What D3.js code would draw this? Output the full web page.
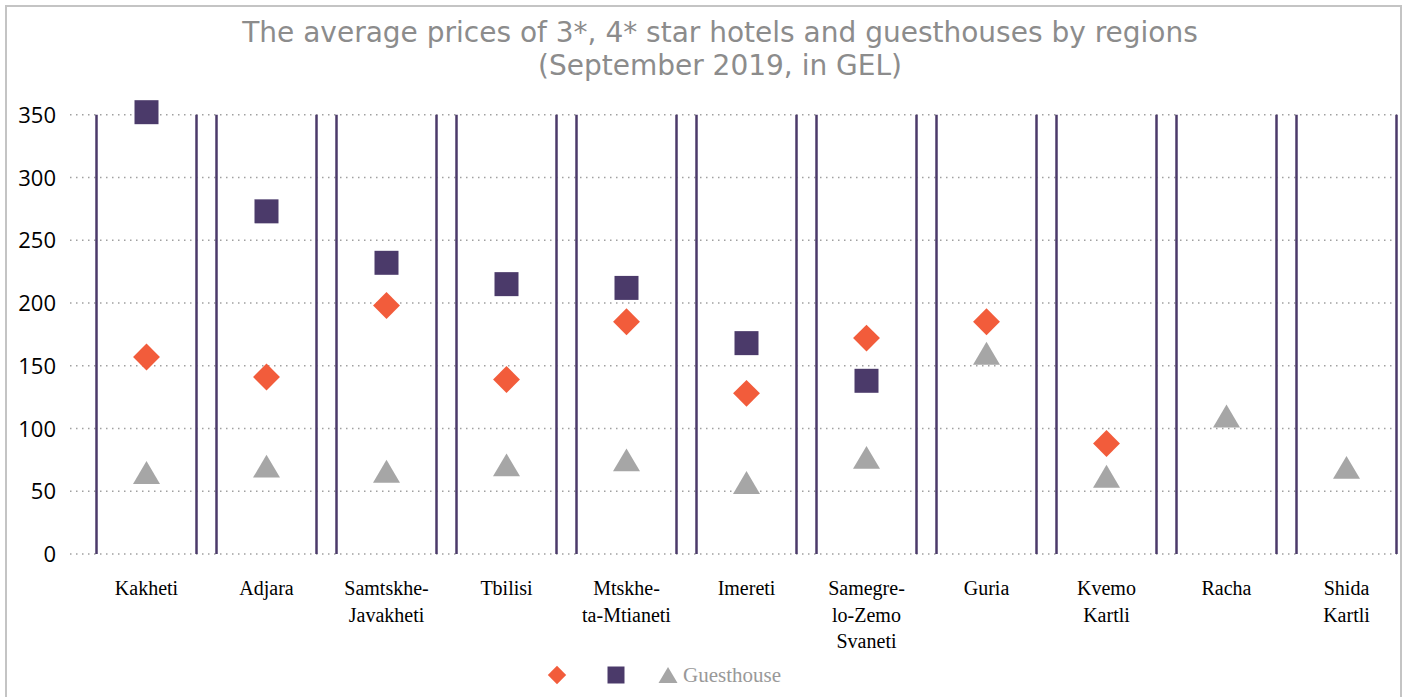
<!DOCTYPE html>
<html>
<head>
<meta charset="utf-8">
<script src="https://cdn.jsdelivr.net/npm/d3@7"></script>
<style>
  html, body { margin: 0; padding: 0; background: #fff; }
  svg { display: block; }
</style>
</head>
<body>
<svg id="chart" width="1403" height="697"></svg>
<script>
// ---- data ----
const categories = ["Kakheti", "Adjara", "Samtskhe-Javakheti", "Tbilisi", "Mtskheta-Mtianeti", "Imereti",
  "Samegrelo-Zemo Svaneti", "Guria", "Kvemo Kartli", "Racha", "Shida Kartli"];
const categoryLabels = [["Kakheti"], ["Adjara"], ["Samtskhe-", "Javakheti"], ["Tbilisi"], ["Mtskhe-", "ta-Mtianeti"],
  ["Imereti"], ["Samegre-", "lo-Zemo", "Svaneti"], ["Guria"], ["Kvemo", "Kartli"], ["Racha"], ["Shida", "Kartli"]];
const hotel3 = [157, 141, 198, 139, 185, 128, 172, 185, 88, null, null];      // diamond
const hotel4 = [352, 273, 232, 215, 212, 168, 138, null, null, null, null];    // square
const guesthouse = [65, 70, 66, 71, 75, 57, 77, 160, 62, 110, 69];            // triangle
const yTicks = [0, 50, 100, 150, 200, 250, 300, 350];
const seriesNames = ["", "", "Guesthouse"];
const titleLines = ["The average prices of 3*, 4* star hotels and guesthouses by regions", "(September 2019, in GEL)"];

// ---- layout ----
const svg = d3.select("#chart");
const gridLeft = 70, gridRight = 1397;
const purple = "#4b3a6a", orange = "#f25c3b", gray = "#a6a6a6";

svg.append("rect").attr("x", 6).attr("y", 6).attr("width", 1395).attr("height", 700)
  .attr("fill", "#fff").attr("stroke", "#c4c4c4").attr("stroke-width", 2);

const x = d3.scaleBand().domain(categories).range([86.5, 1406.5]).paddingInner(1 / 6).paddingOuter(1 / 12);
const y = d3.scaleLinear().domain([0, 350]).range([554, 114.7]);

// title
const title = svg.append("text").attr("x", 720).attr("y", 42).attr("text-anchor", "middle")
  .attr("font-family", "'DejaVu Sans', sans-serif").attr("font-size", 28).attr("fill", "#8c8c8c");
titleLines.forEach((t, i) => title.append("tspan").attr("x", 720).attr("dy", i === 0 ? 0 : 33).text(t));

// y axis (labels + dotted gridlines)
const yAxis = d3.axisLeft(y).tickValues(yTicks).tickSize(0).tickPadding(0);
const ya = svg.append("g").attr("transform", "translate(56,0)").call(yAxis);
ya.select(".domain").remove();
ya.selectAll("text").attr("font-family", "'Open Sans', sans-serif").attr("font-size", 22).attr("fill", "#000")
  .attr("dy", "0.35em");

svg.append("g").selectAll("line").data(yTicks).join("line")
  .attr("x1", gridLeft).attr("x2", gridRight)
  .attr("y1", d => y(d)).attr("y2", d => y(d))
  .attr("stroke", "#a0a0a0").attr("stroke-width", 1.5).attr("stroke-dasharray", "1.5,4.5");

// vertical band edge lines
const edges = [];
categories.forEach(c => { edges.push(x(c)); edges.push(x(c) + x.bandwidth()); });
svg.append("g").selectAll("line").data(edges).join("line")
  .attr("x1", d => d).attr("x2", d => d)
  .attr("y1", y(350)).attr("y2", y(0))
  .attr("stroke", purple).attr("stroke-width", 2.5);

// x labels
const xl = svg.append("g");
categories.forEach((c, i) => {
  const t = xl.append("text").attr("x", x(c) + x.bandwidth() / 2).attr("y", 595).attr("text-anchor", "middle")
    .attr("font-family", "'Liberation Serif', serif").attr("font-size", 20).attr("fill", "#000");
  categoryLabels[i].forEach((s, j) => t.append("tspan").attr("x", x(c) + x.bandwidth() / 2).attr("dy", j === 0 ? 0 : 26.5).text(s));
});

// markers
const cx = c => x(c) + x.bandwidth() / 2;
const diamond = d3.symbol().type(d3.symbolSquare).size(19 * 19);
const square = d3.symbol().type(d3.symbolSquare).size(24 * 24);
const triangle = s => { const w = s, h = s * 0.85; return `M0,${-h / 2}L${w / 2},${h / 2}L${-w / 2},${h / 2}Z`; };

const g = svg.append("g");
g.selectAll(".tri").data(categories.map((c, i) => [c, guesthouse[i]]).filter(d => d[1] != null)).join("path")
  .attr("transform", d => `translate(${cx(d[0])},${y(d[1])})`).attr("d", triangle(27)).attr("fill", gray);
g.selectAll(".sq").data(categories.map((c, i) => [c, hotel4[i]]).filter(d => d[1] != null)).join("path")
  .attr("transform", d => `translate(${cx(d[0])},${y(d[1])})`).attr("d", square()).attr("fill", purple);
g.selectAll(".dm").data(categories.map((c, i) => [c, hotel3[i]]).filter(d => d[1] != null)).join("path")
  .attr("transform", d => `translate(${cx(d[0])},${y(d[1])}) rotate(45)`).attr("d", diamond()).attr("fill", orange);

// legend
const lg = svg.append("g").attr("transform", "translate(0,675)");
lg.append("path").attr("transform", "translate(557,0) rotate(45)").attr("d", d3.symbol().type(d3.symbolSquare).size(13 * 13)()).attr("fill", orange);
lg.append("path").attr("transform", "translate(616,0)").attr("d", d3.symbol().type(d3.symbolSquare).size(17 * 17)()).attr("fill", purple);
lg.append("path").attr("transform", "translate(668,0)").attr("d", triangle(19)).attr("fill", gray);
lg.append("text").attr("x", 683).attr("y", 7).attr("font-family", "'Liberation Serif', serif").attr("font-size", 21)
  .attr("fill", "#999").text(seriesNames[2]);
</script>
</body>
</html>
